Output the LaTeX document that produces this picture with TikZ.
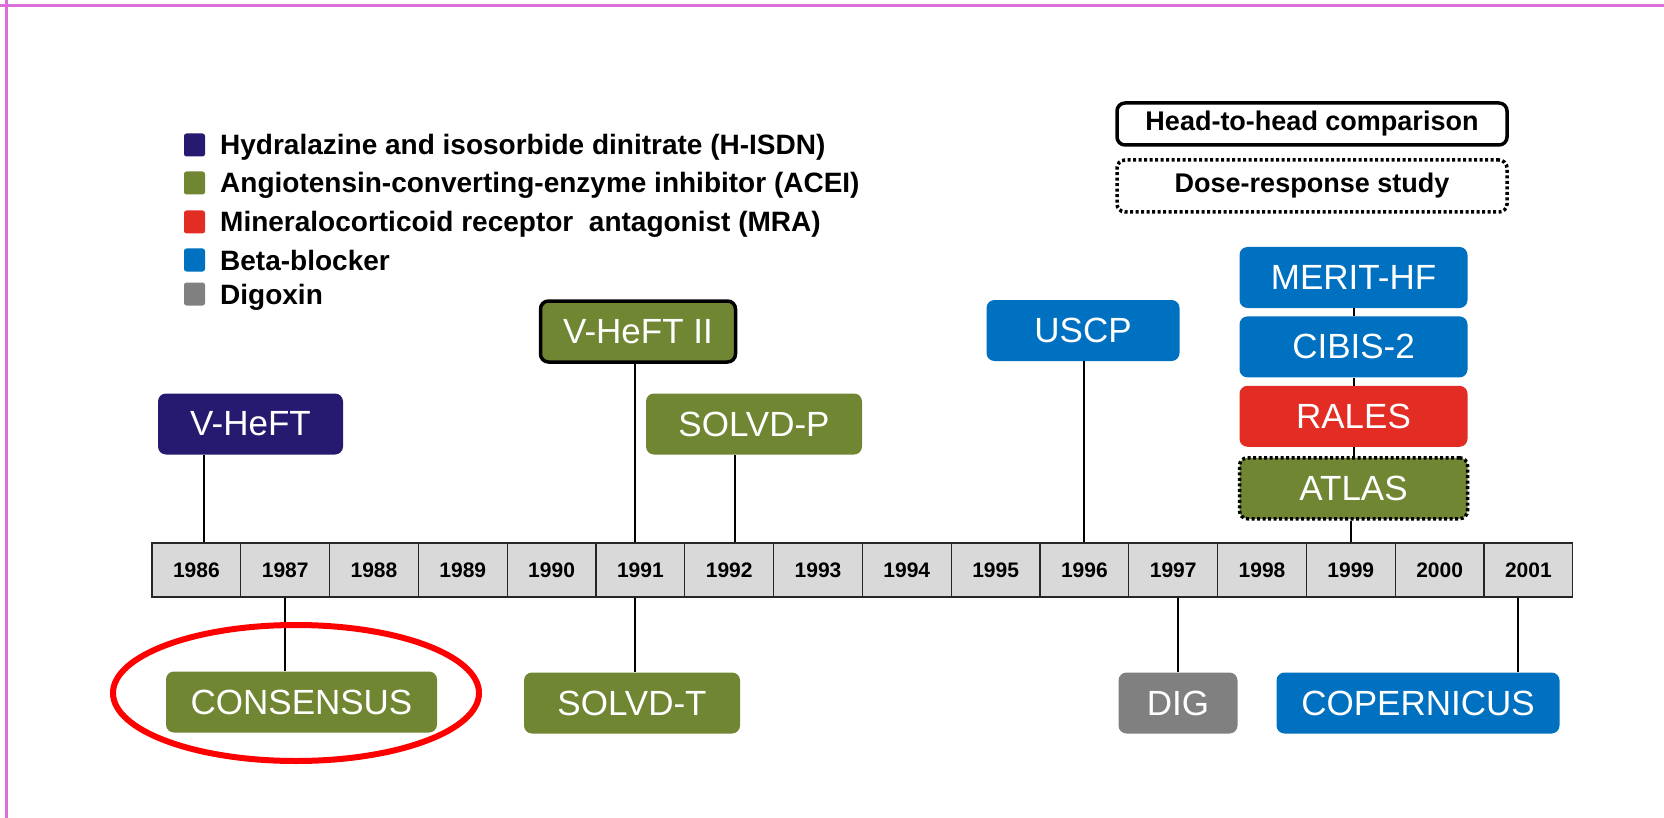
\documentclass[tikz,border=0pt]{standalone}
\usepackage{fontspec}
\setmainfont{Liberation Sans}
\usepackage{tikz}
\usetikzlibrary{positioning}

\definecolor{hisdn}{RGB}{38,26,112}
\definecolor{acei}{RGB}{112,134,50}
\definecolor{mra}{RGB}{226,44,36}
\definecolor{betab}{RGB}{0,112,192}
\definecolor{digox}{RGB}{128,128,128}
\definecolor{cellgray}{RGB}{217,217,217}
\definecolor{pageframe}{RGB}{220,110,220}

\tikzset{
  trial/.style={rounded corners=8pt, text=white, inner sep=0pt, minimum height=61pt,
    font=\fontsize{35}{40}\selectfont},
  yearcell/.style={draw=black!85, line width=1.3pt, fill=cellgray, inner sep=0pt,
    minimum width=88.8pt, minimum height=54pt, font=\bfseries\fontsize{21}{24}\selectfont},
  link/.style={line width=2pt},
  headtohead/.style={draw=black, line width=3.5pt},
  doseresp/.style={draw=black, line width=3.5pt, dash pattern=on 3pt off 2.5pt},
  keytext/.style={anchor=base west, inner sep=0pt, font=\bfseries\fontsize{28}{31}\selectfont},
}

\begin{document}
\begin{tikzpicture}[x=1pt,y=-1pt]
	\useasboundingbox[fill=white] (0,0) rectangle (1664,818);
	\draw[pageframe,line width=3pt] (0,6) -- (1664,6);
	\draw[pageframe,line width=3pt] (6,0) -- (6,818);
	
	% drug classes
	\foreach \c/\t/\yy in {hisdn/Hydralazine and isosorbide dinitrate (H-ISDN)/145,
		acei/Angiotensin-converting-enzyme inhibitor (ACEI)/183,
		mra/Mineralocorticoid receptor\ \ antagonist (MRA)/222,
		betab/Beta-blocker/260,
		digox/Digoxin/294}{
		\fill[\c,rounded corners=2.5pt] (184,\yy-11.5) rectangle ++(21,23);
		\node[keytext] (key-\c) at (220,\yy+10) {\t};
	}
	
	% study types
	\node[headtohead,rounded corners=8pt,minimum width=390pt,minimum height=42pt,
		font=\bfseries\fontsize{27}{30}\selectfont] (h2h) at (1312,124) {Head-to-head comparison};
	\node[doseresp,rounded corners=8pt,minimum width=390pt,minimum height=52pt,
		font=\bfseries\fontsize{27}{30}\selectfont] (dose) at (1312,186) {Dose-response study};
	
	% timeline
	\foreach \yr in {1986,...,2001}
		\node[yearcell] (y\yr) at ({196.4+88.8*(\yr-1986)},570) {\yr};
	
	% trials above
	\node[trial,fill=hisdn,minimum width=185pt] (vheft) at (250.5,424) {V-HeFT};
	\node[trial,fill=acei,headtohead,minimum width=195pt] (vheft2) at (638,331.5) {V-HeFT II};
	\node[trial,fill=acei,minimum width=216pt] (solvdp) at (754,424) {SOLVD-P};
	\node[trial,fill=betab,minimum width=193pt] (uscp) at (1083,330.5) {USCP};
	\node[trial,fill=betab,minimum width=228pt] (merit) at (1353.5,277.5) {MERIT-HF};
	\node[trial,fill=betab,minimum width=228pt,below=8pt of merit] (cibis) {CIBIS-2};
	\node[trial,fill=mra,minimum width=228pt,below=8pt of cibis] (rales) {RALES};
	\node[trial,fill=acei,doseresp,minimum width=228pt,below=9pt of rales] (atlas) {ATLAS};
	
	% trials below
	\node[trial,fill=acei,minimum width=271pt] (consensus) at (301.5,702) {CONSENSUS};
	\node[trial,fill=acei,minimum width=216pt] (solvdt) at (632,703) {SOLVD-T};
	\node[trial,fill=digox,minimum width=119pt] (dig) at (1178,703) {DIG};
	\node[trial,fill=betab,minimum width=283pt] (copernicus) at (1418,703) {COPERNICUS};
	
	\draw[link] ([xshift=8pt]y1986.north) -- ([xshift=8pt]y1986.north |- vheft.south);
	\draw[link] ([xshift=-5pt]y1991.north) -- ([xshift=-5pt]y1991.north |- vheft2.south);
	\draw[link] ([xshift=6pt]y1992.north) -- ([xshift=6pt]y1992.north |- solvdp.south);
	\draw[link] (y1996.north) -- (y1996.north |- uscp.south);
	\draw[link] (y1999.north) -- (y1999.north |- atlas.south);
	\draw[link] (atlas.north) -- (rales.south);
	\draw[link] (rales.north) -- (cibis.south);
	\draw[link] (cibis.north) -- (merit.south);
	\draw[link] (y1987.south) -- (y1987.south |- consensus.north);
	\draw[link] ([xshift=-5pt]y1991.south) -- ([xshift=-5pt]y1991.south |- solvdt.north);
	\draw[link] ([xshift=5pt]y1997.south) -- ([xshift=5pt]y1997.south |- dig.north);
	\draw[link] ([xshift=-10pt]y2001.south) -- ([xshift=-10pt]y2001.south |- copernicus.north);
	
	\draw[red,line width=6pt] (296,693) ellipse [x radius=183pt, y radius=68pt];
\end{tikzpicture}
\end{document}
